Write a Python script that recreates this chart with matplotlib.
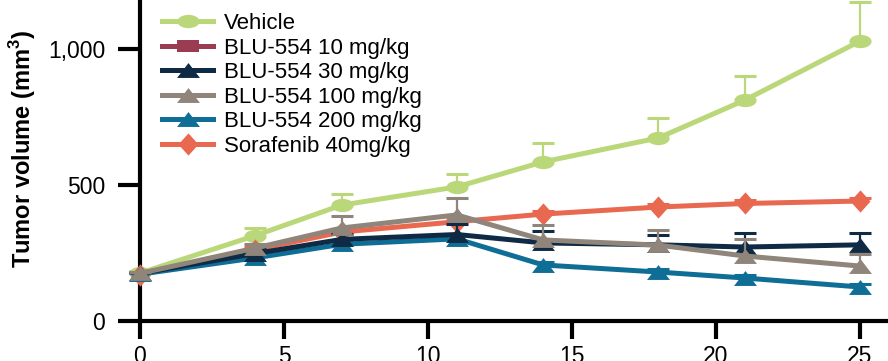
import numpy as np
import matplotlib
matplotlib.use('Agg')
import matplotlib.pyplot as plt
from matplotlib.path import Path
from matplotlib.transforms import Affine2D

plt.rcParams['font.family'] = ['Liberation Sans', 'DejaVu Sans']
plt.rcParams['mathtext.fontset'] = 'custom'
plt.rcParams['mathtext.rm'] = 'Liberation Sans'
plt.rcParams['mathtext.bf'] = 'Liberation Sans:bold'

# data (mean, upper SEM)
days = [0, 4, 7, 11, 14, 18, 21, 25]
vehicle = [176, 314, 426, 493, 585, 673, 812, 1029]
vehicle_err = [8, 28, 42, 47, 69, 73, 88, 145]
blu10 = [np.nan] * 8          # not visible in the plot, legend only
blu10_err = [0] * 8
blu30 = [175, 248, 300, 318, 287, 280, 272, 280]
blu30_err = [5, 15, 20, 38, 45, 38, 50, 45]
blu100 = [175, 268, 342, 390, 298, 279, 239, 202]
blu100_err = [5, 15, 44, 62, 55, 56, 62, 44]
blu200 = [172, 232, 282, 302, 206, 180, 158, 125]
blu200_err = [5, 10, 12, 15, 10, 10, 10, 10]
sorafenib = [170, 262, 327, 365, 393, 419, 432, 441]
sorafenib_err = [5, 10, 12, 15, 12, 12, 12, 12]

labels = ['Vehicle', 'BLU-554 10 mg/kg', 'BLU-554 30 mg/kg',
          'BLU-554 100 mg/kg', 'BLU-554 200 mg/kg', 'Sorafenib 40mg/kg']
colors = ['#BAD87A', '#9B3D52', '#0F2A44', '#8F857A', '#0F6E96', '#E8694F']

# flattened markers like the Prism export
ellipse = Path.unit_circle().transformed(Affine2D().scale(1, 0.6))
tri = Path([(-1, -0.65), (1, -0.65), (0, 0.65), (-1, -0.65)],
           [Path.MOVETO, Path.LINETO, Path.LINETO, Path.CLOSEPOLY])
square = Path([(-1, -0.55), (1, -0.55), (1, 0.55), (-1, 0.55), (-1, -0.55)],
              [Path.MOVETO, Path.LINETO, Path.LINETO, Path.LINETO, Path.CLOSEPOLY])
diamond = Path([(0, 1), (0.9, 0), (0, -1), (-0.9, 0), (0, 1)],
               [Path.MOVETO, Path.LINETO, Path.LINETO, Path.LINETO, Path.CLOSEPOLY])

series = [
    (vehicle, vehicle_err, ellipse, 16, 2),
    (blu10, blu10_err, square, 16, 3),
    (sorafenib, sorafenib_err, diamond, 16, 4),
    (blu200, blu200_err, tri, 16.5, 5),
    (blu30, blu30_err, tri, 16.5, 6),
    (blu100, blu100_err, tri, 16.5, 7),
]
order = [0, 1, 5, 4, 2, 3]  # series index -> label/color index

fig = plt.figure(figsize=(8.88, 3.61), dpi=100)
ax = fig.add_axes([0, 0, 1, 1])
ax.patch.set_alpha(0)

handles = {}
for (vals, err, mk, ms, z), ci in zip(series, order):
    c = colors[ci]
    vals = np.array(vals, dtype=float)
    top = vals + np.array(err)
    ax.vlines(days, vals, top, color=c, lw=1.6, zorder=z)
    ax.plot(days, top, ls='none', marker='_', ms=16, mew=2.2, color=c, zorder=z)
    h, = ax.plot(days, vals, color=c, lw=3.6, marker=mk, ms=ms, mew=0,
                 zorder=z + 0.5, label=labels[ci])
    handles[ci] = h

ax.set_xlim(-4.86, 25.97)
ax.set_ylim(-147, 1180)
for s in ['top', 'right']:
    ax.spines[s].set_visible(False)
for s in ['left', 'bottom']:
    ax.spines[s].set_position(('data', 0))
    ax.spines[s].set_linewidth(3)
    ax.spines[s].set_capstyle('projecting')
ax.spines['left'].set_bounds(0, 1180)
ax.spines['bottom'].set_bounds(0, 25.97)
ax.set_xticks([0, 5, 10, 15, 20, 25])
ax.set_yticks([0, 500, 1000])
ax.set_yticklabels(['0', '500', '1,000'])
ax.tick_params(axis='both', direction='out', width=3, labelsize=16.5)
ax.tick_params(axis='y', length=16, pad=9)
ax.tick_params(axis='x', length=13, pad=4)

fig.text(23 / 888, 1 - 149 / 361, r'Tumor volume (mm$^\mathbf{3}$)', rotation=90,
         fontsize=17, fontweight='bold', ha='center', va='center')

leg = ax.legend([handles[i] for i in range(6)], labels, loc='upper left',
                bbox_to_anchor=(162 / 888, 1 - 13 / 361),
                bbox_transform=fig.transFigure, frameon=False, fontsize=16,
                handlelength=2.3, handletextpad=0.5, labelspacing=0.16,
                borderpad=0, borderaxespad=0)

fig.savefig('out.png', dpi=100)
